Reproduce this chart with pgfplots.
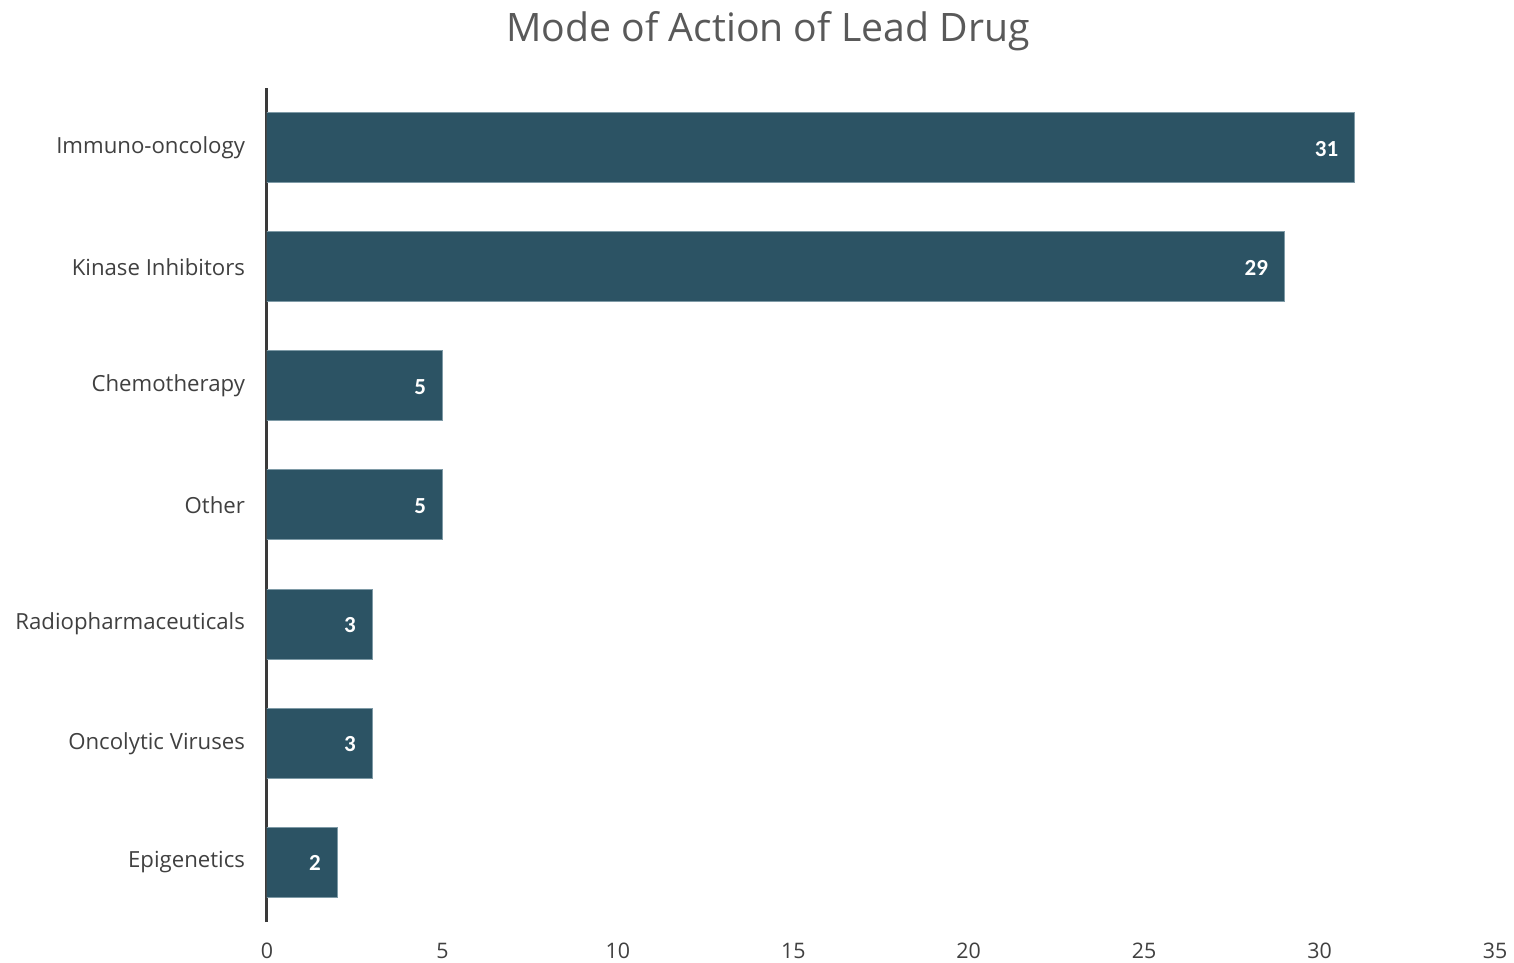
\documentclass[border=0pt]{standalone}
\usepackage{fontspec}
\setmainfont{Open Sans}
\newfontfamily\carlito{Carlito}
\usepackage{pgfplots}
\pgfplotsset{compat=1.18}
\definecolor{barcol}{HTML}{2C5364}
\definecolor{baredge}{HTML}{7E9AA6}
\definecolor{titlecol}{HTML}{595959}
\definecolor{labcol}{HTML}{404040}
\definecolor{axcol}{HTML}{3A3A3A}
\begin{document}
\begin{tikzpicture}
\path[use as bounding box] (-133.5bp,-20.5bp) rectangle (623.5bp,461bp);
\begin{axis}[
  at={(0,0)}, anchor=south west,
  scale only axis, width=614bp, height=417bp,
  xbar, bar width=35bp,
  xmin=0, xmax=35, ymin=-0.5, ymax=6.5,
  enlargelimits=false,
  xtick={0,5,...,35},
  ytick={0,1,2,3,4,5,6},
  yticklabels={Epigenetics,Oncolytic Viruses,Radiopharmaceuticals,Other,Chemotherapy,Kinase Inhibitors,Immuno-oncology},
  axis y line=left, axis x line=bottom,
  x axis line style={draw=none},
  y axis line style={line width=1.5bp, color=axcol, -},
  major tick length=0pt,
  tick style={draw=none},
  /pgf/number format/assume math mode=true,
  xticklabel style={font=\fontsize{10.7bp}{12bp}\selectfont, text=labcol, yshift=-7bp},
  yticklabel style={font=\fontsize{11.1bp}{13bp}\selectfont, text=labcol, xshift=-7.5bp},
  nodes near coords,
  nodes near coords style={anchor=east, inner sep=0pt, xshift=-8bp, yshift=-0.5bp, text=white, font=\carlito\bfseries\fontsize{11.5bp}{13bp}\selectfont},
]
\addplot[fill=barcol, draw=baredge, line width=0.5bp] coordinates {
 (2,0) (3,1) (3,2) (5,3) (5,4) (29,5) (31,6)
};
\end{axis}
\node[text=titlecol, font=\fontsize{19.6bp}{23bp}\selectfont] at (250.5bp,445.5bp) {Mode of Action of Lead Drug};
\end{tikzpicture}
\end{document}
